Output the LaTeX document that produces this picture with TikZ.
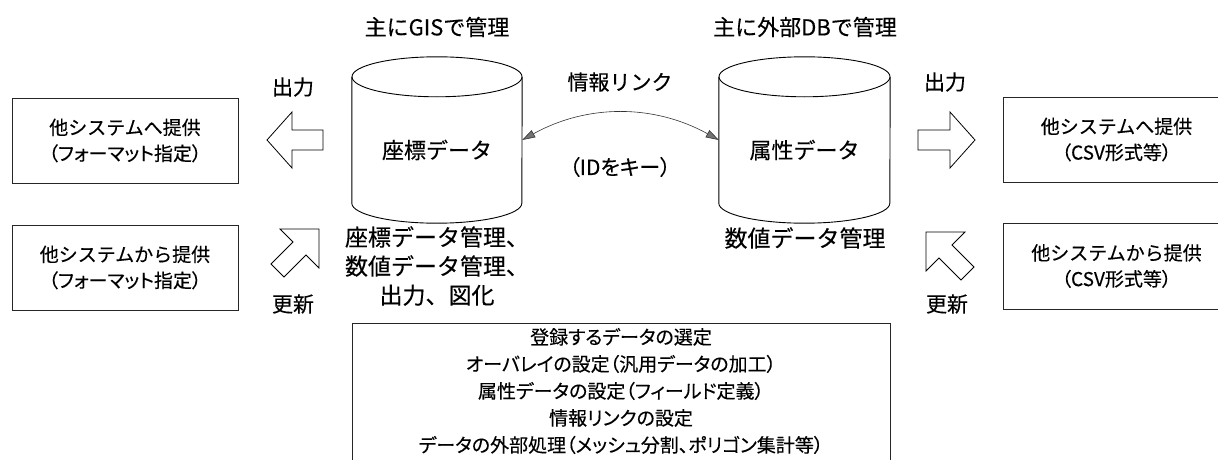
\documentclass[tikz,border=0pt]{standalone}
\usepackage{fontspec}
\setmainfont{Noto Sans CJK JP}[FakeBold=0.3]
\newfontfamily\jpp{Noto Sans CJK JP}[FakeBold=0.3,RawFeature=+palt]
\usetikzlibrary{arrows.meta}
\begin{document}
\begin{tikzpicture}[x=1pt,y=1pt,
  box/.style={draw=black!85, line width=0.8pt, minimum width=226pt, minimum height=85pt, align=center, font=\fontsize{19}{26}\selectfont},
  lbl/.style={font=\fontsize{21}{26}\selectfont, inner sep=0pt},
  hdr/.style={font=\fontsize{22}{26}\selectfont, inner sep=0pt},
  fn/.style={font=\fontsize{23}{29}\selectfont, inner sep=0pt, align=center},
  body/.style={minimum width=170pt, minimum height=126pt, inner sep=0pt},
  bodytext/.style={font=\fontsize{22}{26}\selectfont, inner sep=0pt},
  cyl/.style={draw=black, line width=0.9pt},
  blk/.style={draw=black, line width=0.8pt, fill=white, line join=miter},
  link/.style={draw=black!80, line width=0.6pt, {Triangle[length=13pt,width=8pt,fill=black!55]}-{Triangle[length=13pt,width=8pt,fill=black!55]}}
]
\useasboundingbox (0,0) rectangle (1218,459);

% side boxes
\node[box] (outL) at (125,318.5) {他システムへ提供\\{\jpp （フォーマット指定）}};
\node[box] (inL) at (125,191.5) {他システムから提供\\{\jpp （フォーマット指定）}};
\node[box, minimum width=227pt] (outR) at (1116.5,319.5) {他システムへ提供\\{\jpp （CSV形式等）}};
\node[box, minimum width=227pt, minimum height=86pt] (inR) at (1116.5,193) {他システムから提供\\{\jpp （CSV形式等）}};

% cylinders
\node[body] (gis) at (437,319) {};
\draw[cyl] (gis.north west) -- (gis.south west) arc[start angle=180, end angle=360, x radius=85, y radius=20] -- (gis.north east);
\draw[cyl] (gis.north) ellipse[x radius=85, y radius=20];
\node[bodytext] (gistext) at ([yshift=-10pt]gis.center) {座標データ};

\node[body, minimum width=171pt] (attr) at (804.5,319) {};
\draw[cyl] (attr.north west) -- (attr.south west) arc[start angle=180, end angle=360, x radius=85.5, y radius=20] -- (attr.north east);
\draw[cyl] (attr.north) ellipse[x radius=85.5, y radius=20];
\node[bodytext] (attrtext) at ([yshift=-10pt]attr.center) {属性データ};

% information link
\draw[link] (gis.east) .. controls +(65,36) and +(-65,36) .. (attr.west);

% block arrows
\draw[blk] (323,329) -- (292,329) -- (292,347) -- (267,319) -- (292,291) -- (292,309) -- (323,309) -- cycle;
\draw[blk] (918,329) -- (950,329) -- (950,347) -- (975,319) -- (950,291) -- (950,309) -- (918,309) -- cycle;
\draw[blk, shift={(319,230)}] (0,0) -- (-39,0) -- (-26,-13) -- (-48,-35) -- (-35,-48) -- (-13,-26) -- (0,-39) -- cycle;
\draw[blk, shift={(926,227)}] (0,0) -- (39,0) -- (26,-13) -- (48,-35) -- (35,-48) -- (13,-26) -- (0,-39) -- cycle;

% labels
\node[hdr] (hdrL) at (437,432) {主にGISで管理};
\node[hdr] (hdrR) at (805,432) {主に外部DBで管理};
\node[lbl] (outlblL) at (293,372) {出力};
\node[lbl] (outlblR) at (945,377) {出力};
\node[lbl] (linklbl) at (620,377) {情報リンク};
\node[lbl] (keylbl) at (620,292) {\jpp （IDをキー）};
\node[fn] (gisfn) at (437,193) {座標データ管理、\\数値データ管理、\\出力、図化};
\node[fn] (attrfn) at (805,221) {数値データ管理};
\node[lbl] (updL) at (293,155) {更新};
\node[lbl] (updR) at (947,155) {更新};

% bottom box (open at the bottom)
\draw[draw=black!85, line width=0.8pt] (352,-5) |- (890,136) -- (890,-5);
\node[align=center, font=\fontsize{19}{27}\selectfont\jpp, inner sep=0pt] (steps) at (621,68)
  {登録するデータの選定\\オーバレイの設定（汎用データの加工）\\属性データの設定（フィールド定義）\\情報リンクの設定\\データの外部処理（メッシュ分割、ポリゴン集計等）};
\end{tikzpicture}
\end{document}
